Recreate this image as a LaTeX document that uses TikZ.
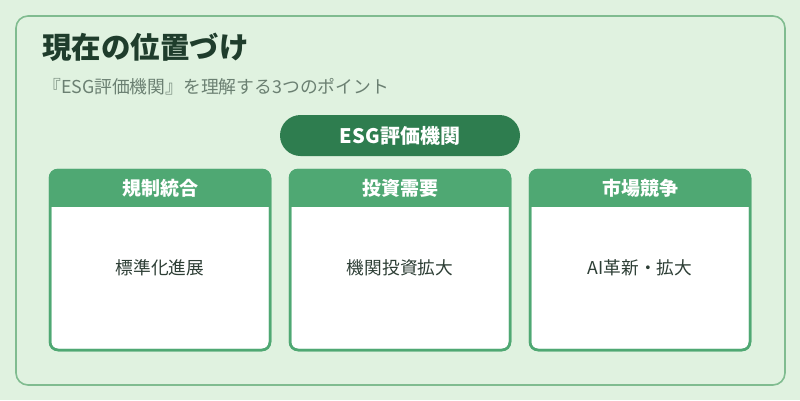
\documentclass[tikz,border=0pt]{standalone}
\usepackage{fontspec}
\setmainfont{Noto Sans CJK JP}
\definecolor{bgc}{HTML}{E0F2E0}
\definecolor{outerc}{HTML}{80BC90}
\definecolor{pillc}{HTML}{2E7D4F}
\definecolor{headc}{HTML}{4FA873}
\definecolor{titlec}{HTML}{1F3D2C}
\definecolor{subc}{HTML}{6B8072}
\definecolor{bodyc}{HTML}{2D3E35}
\tikzset{
  card/.style={draw=headc, line width=2.5pt, fill=white, rounded corners=8pt},
  headtext/.style={text=white, font=\fontsize{19}{22}\selectfont\bfseries},
  bodytext/.style={text=bodyc, font=\fontsize{17.7}{20}\selectfont},
}
\begin{document}
\begin{tikzpicture}[x=1pt,y=-1pt]
\useasboundingbox (0,0) rectangle (800,400);
\fill[bgc] (0,0) rectangle (800,400);
\draw[outerc, line width=1.6pt, rounded corners=12pt] (16,16) rectangle (785,385);
\node[anchor=west, inner sep=0pt, text=titlec, font=\fontsize{29.5}{34}\selectfont\bfseries] (title) at (42,47) {現在の位置づけ};
\node[anchor=west, inner sep=0pt, text=subc, font=\fontsize{17.8}{20}\selectfont] (sub) at (43,87) {『ESG評価機関』を理解する3つのポイント};
\fill[pillc, rounded corners=20.5pt] (280,115) rectangle (520,156);
\node[text=white, font=\fontsize{20}{22}\selectfont\bfseries] (pill) at (400,135.5) {ESG評価機関};
\foreach \x/\h/\b/\n in {50/規制統合/標準化進展/a, 290/投資需要/機関投資拡大/b, 530/市場競争/AI革新・拡大/c} {
  \draw[card] (\x,170) rectangle ++(220,180);
  \begin{scope}
    \clip[rounded corners=8pt] (\x,170) rectangle ++(220,180);
    \fill[headc] (\x,170) rectangle ++(220,37);
  \end{scope}
  \draw[headc, line width=2.5pt, rounded corners=8pt] (\x,170) rectangle ++(220,180);
  \node[headtext] (h\n) at (\x+110,188.5) {\h};
  \node[bodytext] (b\n) at (\x+110,268) {\b};
}
\end{tikzpicture}
\end{document}
